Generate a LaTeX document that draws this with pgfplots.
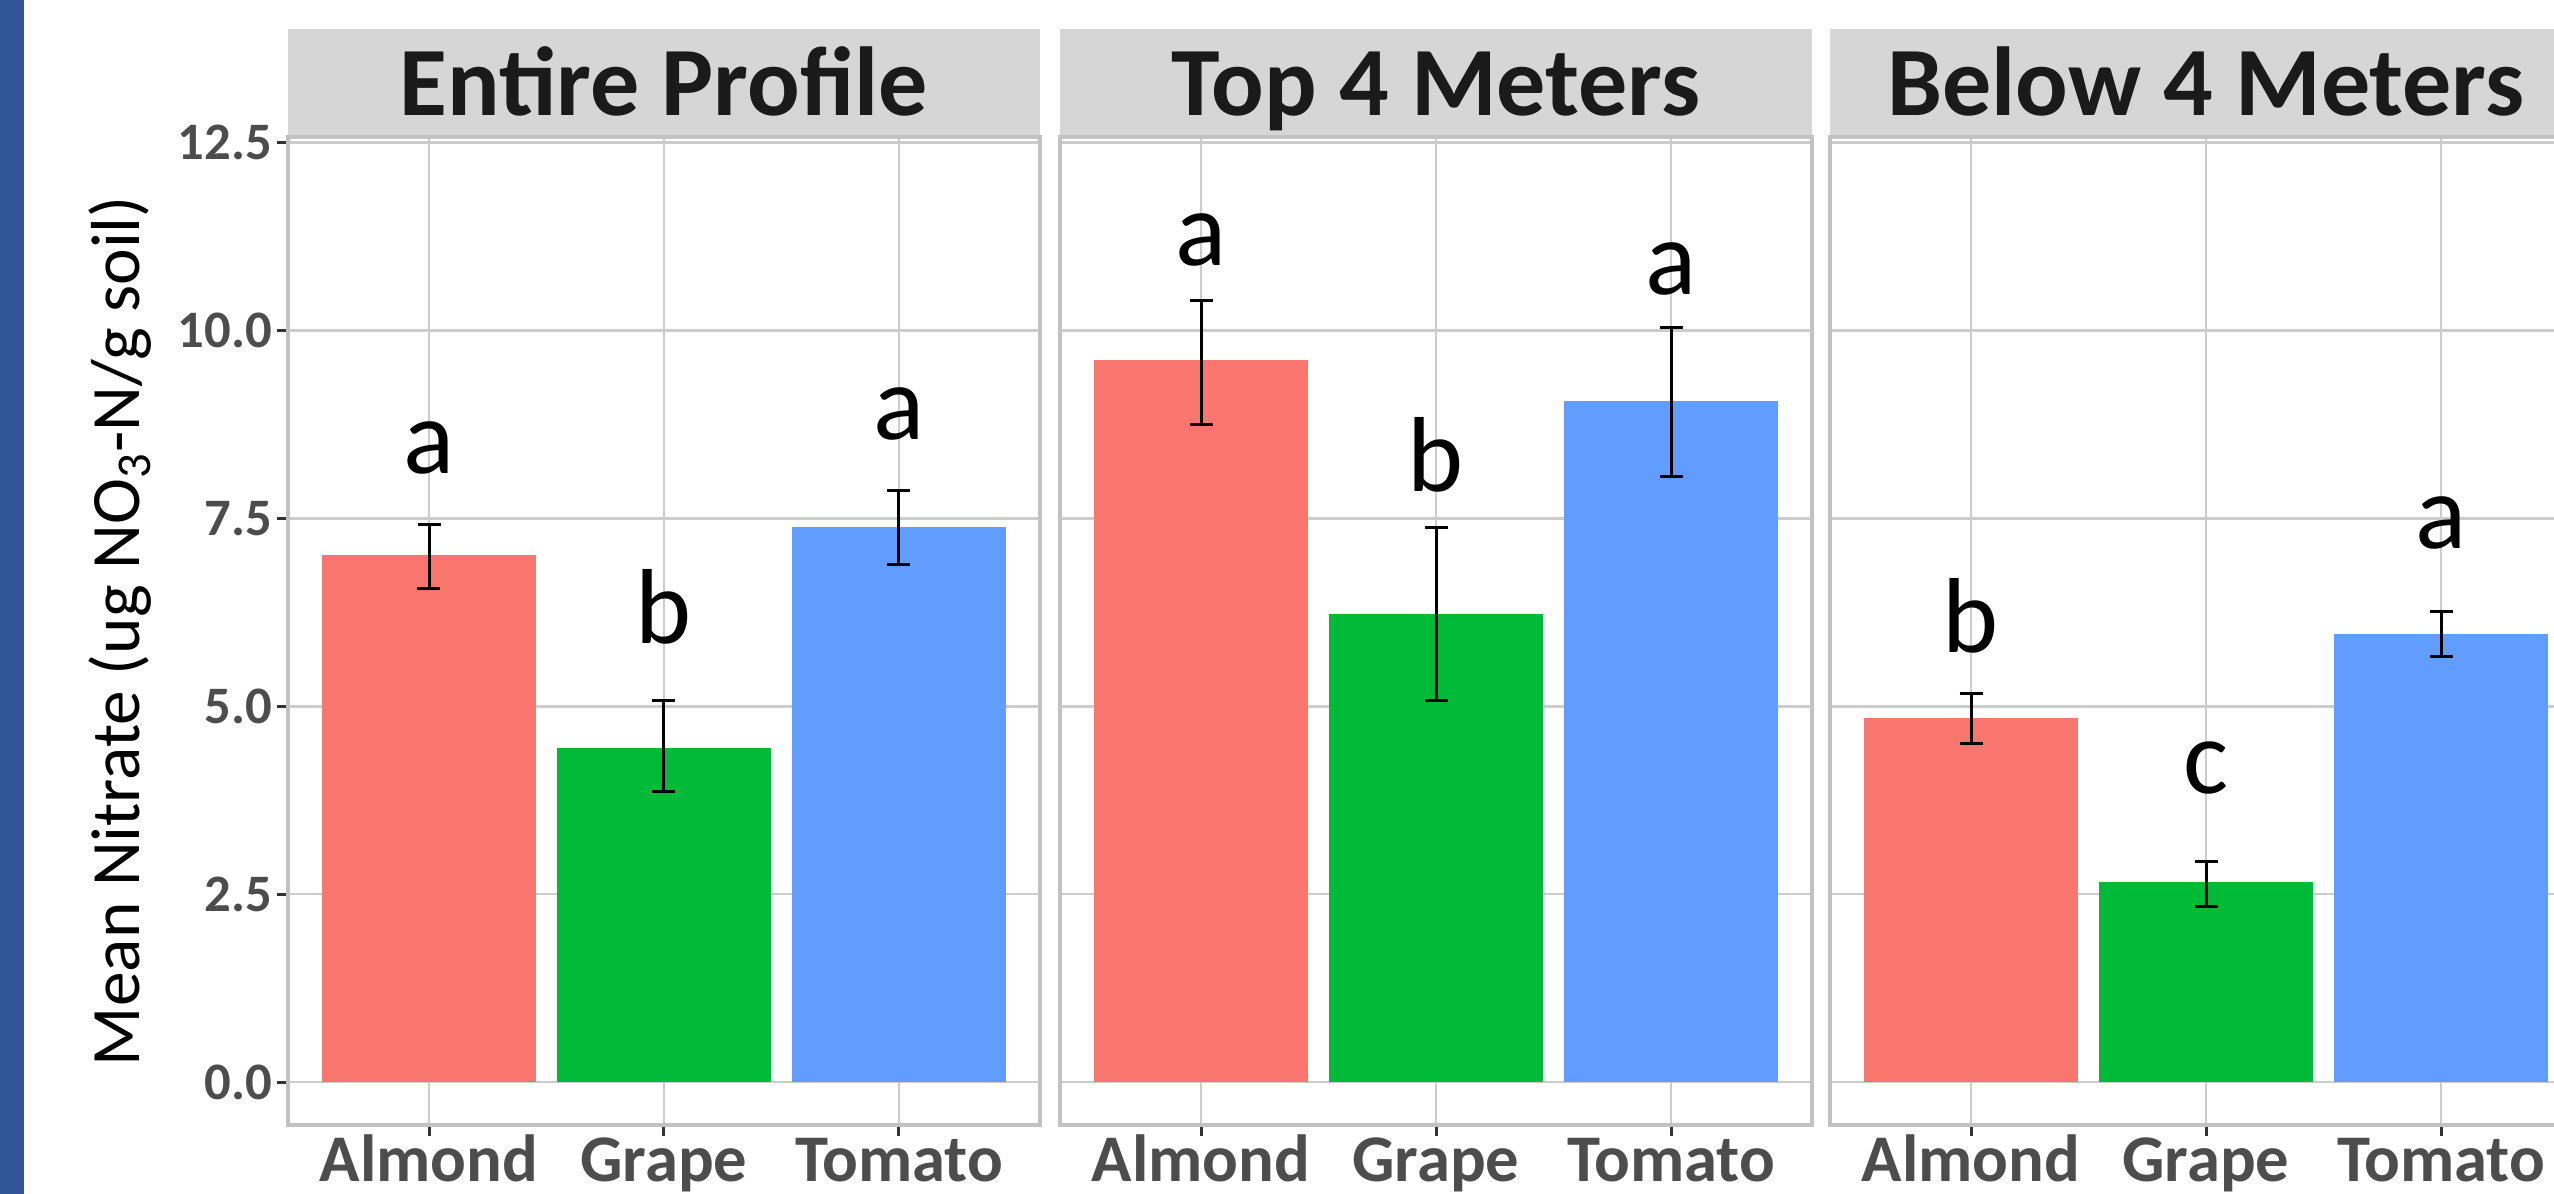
\documentclass[border=0pt]{standalone}
\usepackage{fontspec}
\setmainfont{Carlito}
\usepackage{pgfplots}
\pgfplotsset{compat=1.18}
\definecolor{cAlm}{HTML}{F8766D}
\definecolor{cGra}{HTML}{00BA38}
\definecolor{cTom}{HTML}{619CFF}
\definecolor{stripc}{HTML}{D6D6D6}
\definecolor{stript}{HTML}{1A1A1A}
\definecolor{gridc}{HTML}{CCCCCC}
\definecolor{borderc}{HTML}{C2C2C2}
\definecolor{tickc}{HTML}{333333}
\definecolor{tlabc}{HTML}{4D4D4D}
\definecolor{leftblue}{HTML}{2F5597}
\newcommand\stripfont{\fontsize{29.4}{30}\selectfont\bfseries}
\newcommand\xtfont{\fontsize{20}{20}\selectfont\bfseries}
\newcommand\ytfont{\fontsize{15.8}{16}\selectfont\bfseries}
\newcommand\letfont{\fontsize{32}{32}\selectfont}
\newcommand\ylabfont{\fontsize{20.8}{21}\selectfont}
\pgfplotsset{
  panel/.style={
    scale only axis, width=225.6pt, height=296.4pt,
    anchor=south west,
    xmin=0.4, xmax=3.6, ymin=-0.57, ymax=12.57,
    xtick={1,2,3}, xticklabels={Almond,Grape,Tomato},
    ytick={0,2.5,5,7.5,10,12.5},
    grid=major, major grid style={gridc, line width=0.8pt},
    axis line style={borderc, line width=1pt},
    tick align=outside, major tick length=3.2pt, tick pos=left,
    tick style={tickc, line width=0.9pt},
    xticklabel style={font=\xtfont, text=tlabc, anchor=base, inner sep=0pt, yshift=-13.8pt},
    yticklabel style={font=\ytfont, text=tlabc, anchor=east, inner sep=0pt, xshift=-1.4pt,
      /pgf/number format/fixed, /pgf/number format/fixed zerofill,
      /pgf/number format/precision=1, /pgf/number format/assume math mode=true},
    clip=false,
  },
  nolefty/.style={yticklabels={}, ytick style={draw=none}},
  bars/.style={ybar, bar width=0.91, bar shift=0pt, draw=none,
    /pgfplots/error bars/y dir=both, /pgfplots/error bars/y explicit,
    /pgfplots/error bars/error mark=|,
    /pgfplots/error bars/error bar style={black, line width=0.9pt},
    /pgfplots/error bars/error mark options={black, line width=0.9pt, mark size=3.45pt}},
}
\newcommand\strip[1]{%
  \fill[stripc] ([yshift=0.5pt]rel axis cs:0,1) rectangle ([yshift=32.4pt]rel axis cs:1,1);
  \node[font=\stripfont, text=stript, anchor=base] at ([yshift=6.3pt]rel axis cs:0.5,1) {#1};}
\begin{document}
\begin{tikzpicture}
\useasboundingbox (0,0) rectangle (766.2pt,358.2pt);
\clip (0,0) rectangle (766.2pt,358.2pt);
\fill[leftblue] (0,0) rectangle (7.2pt,358.2pt);

% Panel 1
\begin{axis}[panel, at={(86.4pt,20.7pt)},
  ylabel={Mean Nitrate (ug NO\textsubscript{3}-N/g soil)},
  every axis y label/.style={at={([xshift=-44.4pt]rel axis cs:0,0.5)}, rotate=90, anchor=base, font=\ylabfont, text=black}]
\strip{Entire Profile}
\addplot[bars, fill=cAlm] coordinates {(1,7.01) += (0,0.41) -= (0,0.45)};
\addplot[bars, fill=cGra] coordinates {(2,4.45) += (0,0.62) -= (0,0.59)};
\addplot[bars, fill=cTom] coordinates {(3,7.38) += (0,0.49) -= (0,0.49)};
\node[font=\letfont, anchor=base] at (axis cs:1,8.10) {a};
\node[font=\letfont, anchor=base] at (axis cs:2,5.84) {b};
\node[font=\letfont, anchor=base] at (axis cs:3,8.54) {a};
\end{axis}

% Panel 2
\begin{axis}[panel, nolefty, at={(318pt,20.7pt)}]
\strip{Top 4 Meters}
\addplot[bars, fill=cAlm] coordinates {(1,9.60) += (0,0.80) -= (0,0.85)};
\addplot[bars, fill=cGra] coordinates {(2,6.22) += (0,1.15) -= (0,1.15)};
\addplot[bars, fill=cTom] coordinates {(3,9.06) += (0,0.98) -= (0,1.01)};
\node[font=\letfont, anchor=base] at (axis cs:1,10.86) {a};
\node[font=\letfont, anchor=base] at (axis cs:2,7.86) {b};
\node[font=\letfont, anchor=base] at (axis cs:3,10.47) {a};
\end{axis}

% Panel 3
\begin{axis}[panel, nolefty, at={(549pt,20.7pt)}]
\strip{Below 4 Meters}
\addplot[bars, fill=cAlm] coordinates {(1,4.84) += (0,0.33) -= (0,0.33)};
\addplot[bars, fill=cGra] coordinates {(2,2.66) += (0,0.28) -= (0,0.32)};
\addplot[bars, fill=cTom] coordinates {(3,5.96) += (0,0.30) -= (0,0.30)};
\node[font=\letfont, anchor=base] at (axis cs:1,5.72) {b};
\node[font=\letfont, anchor=base] at (axis cs:2,3.84) {c};
\node[font=\letfont, anchor=base] at (axis cs:3,7.10) {a};
\end{axis}
\end{tikzpicture}
\end{document}
